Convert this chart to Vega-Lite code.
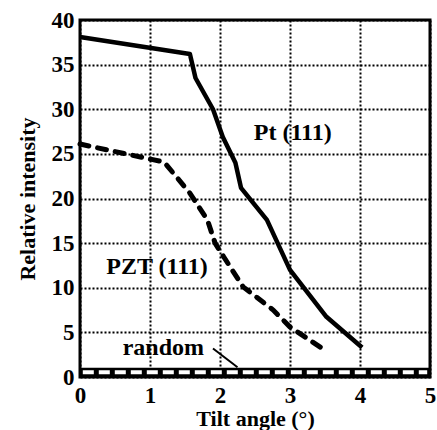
{
  "$schema": "https://vega.github.io/schema/vega-lite/v6.json",
  "width": 350,
  "height": 357,
  "autosize": "none",
  "padding": {"left": 80, "top": 20, "right": 7, "bottom": 53},
  "config": {
    "view": {"stroke": "black", "strokeWidth": 3},
    "axis": {
      "labelFont": "Liberation Serif", "labelFontWeight": "bold", "labelFontSize": 23, "labelColor": "black",
      "titleFont": "Liberation Serif", "titleFontWeight": "bold", "titleFontSize": 22, "titleColor": "black",
      "domain": false, "labelFlush": false, "labelOverlap": false
    },
    "text": {"font": "Liberation Serif", "fontWeight": "bold", "fontSize": 24, "color": "black"}
  },
  "layer": [
    {
      "data": {"values": [
        {"x": 0, "y": 38.1}, {"x": 1.57, "y": 36.2}, {"x": 1.65, "y": 33.5}, {"x": 1.9, "y": 30.0},
        {"x": 2.04, "y": 26.9}, {"x": 2.22, "y": 24.0}, {"x": 2.3, "y": 21.2}, {"x": 2.67, "y": 17.6},
        {"x": 3.0, "y": 12.0}, {"x": 3.52, "y": 6.75}, {"x": 4.03, "y": 3.3}
      ]},
      "mark": {"type": "line", "color": "black", "strokeWidth": 4.5, "strokeJoin": "round"},
      "encoding": {
        "x": {"field": "x", "type": "quantitative", "scale": {"domain": [0, 5], "nice": false},
          "axis": {"orient": "bottom", "values": [0, 1, 2, 3, 4, 5], "format": "d", "ticks": false, "grid": true, "gridColor": "black", "gridDash": [2, 2], "gridWidth": 2, "gridOpacity": 1, "labelPadding": 7, "title": "Tilt angle (°)", "titlePadding": 1}},
        "y": {"field": "y", "type": "quantitative", "scale": {"domain": [0, 40], "nice": false},
          "axis": {"orient": "left", "values": [0, 5, 10, 15, 20, 25, 30, 35, 40], "format": "d", "ticks": false, "grid": true, "gridColor": "black", "gridDash": [2, 2], "gridWidth": 2, "gridOpacity": 1, "labelPadding": 6, "title": "Relative intensity", "titlePadding": 12}}
      }
    },
    {
      "data": {"values": [
        {"x": 0, "y": 26.1}, {"x": 0.95, "y": 24.5}, {"x": 1.2, "y": 24.1}, {"x": 1.57, "y": 20.6},
        {"x": 1.82, "y": 17.6}, {"x": 1.93, "y": 15.0}, {"x": 2.05, "y": 13.5}, {"x": 2.33, "y": 10.1},
        {"x": 2.76, "y": 7.5}, {"x": 3.0, "y": 5.6}, {"x": 3.5, "y": 3.0}
      ]},
      "mark": {"type": "line", "color": "black", "strokeWidth": 5, "strokeDash": [9, 9], "strokeCap": "round"},
      "encoding": {
        "x": {"field": "x", "type": "quantitative"},
        "y": {"field": "y", "type": "quantitative"}
      }
    },
    {
      "data": {"values": [{"x": 1.9, "y": 3.2}, {"x": 2.25, "y": 1.1}]},
      "mark": {"type": "line", "color": "black", "strokeWidth": 2},
      "encoding": {
        "x": {"field": "x", "type": "quantitative"},
        "y": {"field": "y", "type": "quantitative"}
      }
    },
    {
      "data": {"values": [{"x": 0, "x2": 5, "y": 0, "y2": 1.05}]},
      "mark": {"type": "rect", "color": "black"},
      "encoding": {
        "x": {"field": "x", "type": "quantitative"},
        "x2": {"field": "x2"},
        "y": {"field": "y", "type": "quantitative"},
        "y2": {"field": "y2"}
      }
    },
    {
      "data": {"values": [{"x": 0.04, "y": 0.52}, {"x": 4.96, "y": 0.52}]},
      "mark": {"type": "line", "color": "white", "strokeWidth": 4, "strokeDash": [11, 5]},
      "encoding": {
        "x": {"field": "x", "type": "quantitative"},
        "y": {"field": "y", "type": "quantitative"}
      }
    },
    {
      "data": {"values": [
        {"x": 3.04, "y": 27.3, "label": "Pt (111)"},
        {"x": 1.1, "y": 12.3, "label": "PZT (111)"},
        {"x": 1.19, "y": 3.2, "label": "random"}
      ]},
      "mark": {"type": "text", "align": "center", "baseline": "middle"},
      "encoding": {
        "x": {"field": "x", "type": "quantitative"},
        "y": {"field": "y", "type": "quantitative"},
        "text": {"field": "label"}
      }
    }
  ]
}
